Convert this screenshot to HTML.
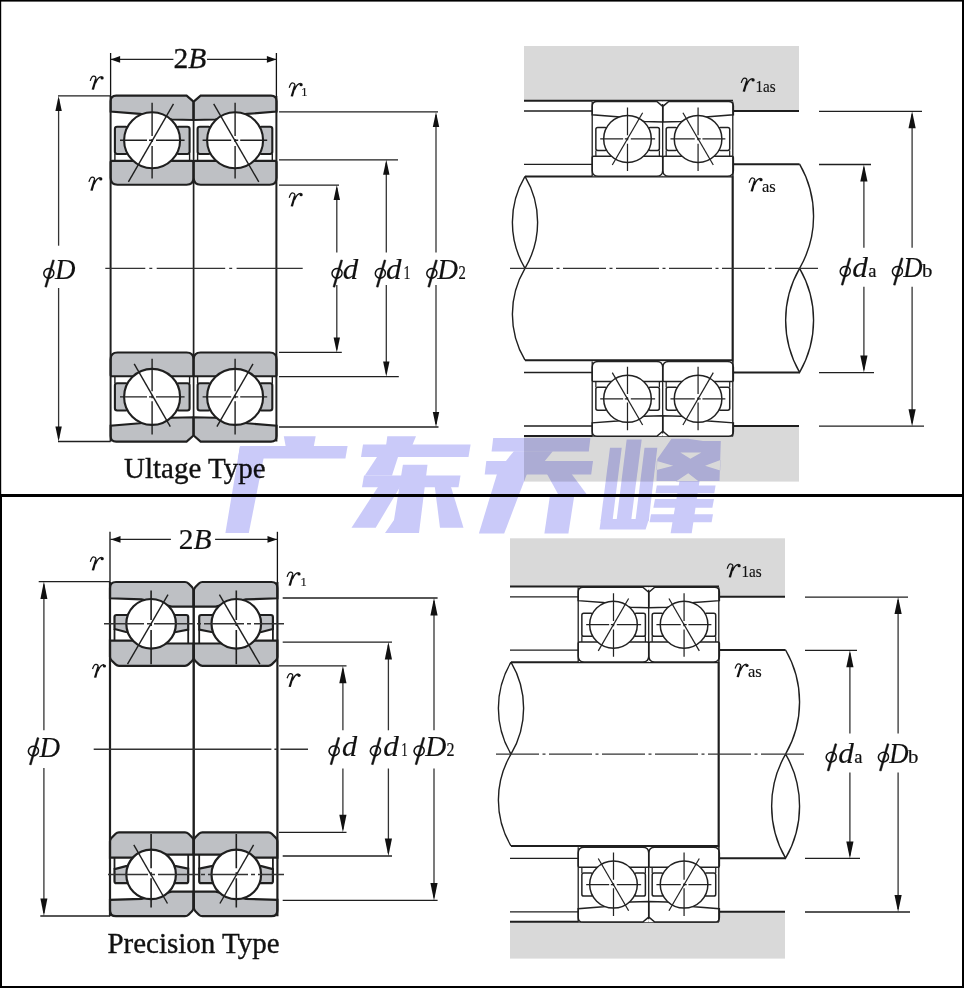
<!DOCTYPE html><html><head><meta charset="utf-8"><style>html,body{margin:0;padding:0;background:#fff;width:964px;height:988px;overflow:hidden}svg{display:block}text{font-family:"Liberation Serif",serif;fill:#111}</style></head><body>
<svg width="964" height="988" viewBox="0 0 964 988">
<defs>
<g id="U">
<rect x="110.6" y="95.6" width="82.9" height="89.1" fill="#fff" style="fill:var(--bg)"/>
<path d="M110.6,101.2 Q110.6,95.6 116.2,95.6 L186.6,95.6 L193.5,101.6 L193.5,120 L172,119.5 L140,113.9 L110.6,111.6 Z" style="fill:var(--rf);stroke:var(--k);stroke-width:var(--sw)"/>
<path d="M110.6,162.5 Q110.6,160.9 112.2,160.9 L191.9,160.9 Q193.5,160.9 193.5,162.5 L193.5,177.8 Q193.5,184.7 186.6,184.7 L117.5,184.7 Q110.6,184.7 110.6,177.8 Z" style="fill:var(--rf);stroke:var(--k);stroke-width:var(--sw)"/>
<rect x="114.9" y="126.7" width="13" height="27.3" rx="2.2" style="fill:var(--cf);stroke:var(--k);stroke-width:var(--sw)"/>
<rect x="176.6" y="126.7" width="13" height="27.3" rx="2.2" style="fill:var(--cf);stroke:var(--k);stroke-width:var(--sw)"/>
<path d="M114.9,154 L114.9,160.9 M189.6,154 L189.6,160.9" style="stroke:var(--k);stroke-width:var(--sw2)"/>
<circle cx="152.1" cy="140.3" r="28" style="fill:#fff;stroke:var(--k);stroke-width:var(--sw)"/>
<path d="M120,140.3 L147,140.3 M149,140.3 L153,140.3 M156,140.3 L184.6,140.3" style="stroke:var(--k);stroke-width:var(--sw2)"/>
<path d="M152.1,102.8 L152.1,136 M152.1,139 L152.1,142 M152.1,146 L152.1,178.5" style="stroke:var(--k);stroke-width:var(--sw2)"/>
<path d="M128.4,181.9 L173.5,103.9" style="stroke:var(--k);stroke-width:var(--sw2);opacity:var(--o1)"/>
<path d="M134.2,171.4 L169.9,109.1" style="stroke:var(--k);stroke-width:var(--sw2);opacity:var(--o2)"/>
<path d="M134.2,173.3 L170.3,110.5" style="stroke:var(--k);stroke-width:var(--sw2);opacity:var(--o3)"/>
</g>
<g id="UP"><use href="#U"/><use href="#U" transform="translate(387.2,0) scale(-1,1)"/></g>
<g id="P">
<rect x="110" y="582" width="83.6" height="83.8" fill="#fff"/>
<path d="M110,588 Q110,582 116,582 L185,582 Q187,582 188.5,583.5 L192,587 Q193.6,588.6 193.6,591 L193.6,606.6 L171.6,606.6 L141.5,599.4 L110,598.3 Z" fill="#bec0c4" stroke="#1f1f1f" stroke-width="2.2"/>
<path d="M110,640.6 L135,640.6 L165,643.5 L193.6,643.5 L193.6,657.5 Q193.6,659.5 192,661 L188.5,664.4 Q187,665.8 185,665.8 L119,665.8 Q117,665.8 115.6,664.4 L111.4,660.2 Q110,658.8 110,657 Z" fill="#bec0c4" stroke="#1f1f1f" stroke-width="2.2"/>
<path d="M114.5,617 Q114.5,615 116.5,615 L131,615 L131,632.5 L126,632 L114.5,629 Z" fill="#bec0c4" stroke="#1f1f1f" stroke-width="2.2"/>
<path d="M188.2,617 Q188.2,615 186.2,615 L171,615 L171,632.5 L176,632 L188.2,629.5 Z" fill="#bec0c4" stroke="#1f1f1f" stroke-width="2.2"/>
<path d="M114.5,629 L114.5,640.6 M188.2,629.5 L188.2,643.5" stroke="#1f1f1f" stroke-width="1.8"/>
<circle cx="151.1" cy="623.8" r="24.8" fill="#fff" stroke="#1f1f1f" stroke-width="2.2"/>
<path d="M151.1,590.6 L151.1,620 M151.1,623 L151.1,626 M151.1,630 L151.1,664.2" stroke="#1f1f1f" stroke-width="1.6"/>
<path d="M127.5,664.2 L168,594.7" stroke="#1f1f1f" stroke-width="1.4" style="opacity:var(--o1)"/>
<path d="M133.8,653.4 L167.5,594.7" stroke="#1f1f1f" stroke-width="1.4" style="opacity:var(--o3)"/>
</g>
<g id="PP"><use href="#P"/><use href="#P" transform="translate(387.4,0) scale(-1,1)"/></g>
</defs>
<rect x="0" y="0" width="964" height="988" fill="#fff"/>
<g style="--bg:#fff;--rf:#bec0c4;--cf:#bec0c4;--k:#1f1f1f;--sw:2.1;--sw2:1.4;--o1:1;--o2:0;--o3:0">
<use href="#UP"/>
<use href="#UP" transform="translate(0,537.2) scale(1,-1)" style="--o1:0;--o3:1"/>
</g>
<line x1="110.6" y1="53" x2="110.6" y2="96" stroke="#111" stroke-width="1.3" />
<line x1="110.6" y1="96" x2="110.6" y2="441.6" stroke="#1f1f1f" stroke-width="2" />
<line x1="276.4" y1="53" x2="276.4" y2="96" stroke="#111" stroke-width="1.3" />
<line x1="276.4" y1="96" x2="276.4" y2="441.6" stroke="#1f1f1f" stroke-width="2" />
<line x1="193.6" y1="101.6" x2="193.6" y2="435.6" stroke="#1f1f1f" stroke-width="1.7" />
<line x1="105.3" y1="268.4" x2="302.7" y2="268.4" stroke="#333" stroke-width="1.4" stroke-dasharray="68.5,4,3,4.4" stroke-dashoffset="28.5"/>
<line x1="110.6" y1="59.4" x2="173.4" y2="59.4" stroke="#222" stroke-width="1.3" />
<line x1="207" y1="59.4" x2="276.4" y2="59.4" stroke="#222" stroke-width="1.3" />
<path d="M110.6,59.4 L120.1,56.0 L120.1,62.8 Z" fill="#111"/>
<path d="M276.4,59.4 L266.9,56.0 L266.9,62.8 Z" fill="#111"/>
<text x="190" y="67.7" font-size="29.5" font-style="normal" text-anchor="middle" stroke="#111" stroke-width="0.3">2<tspan font-style='italic'>B</tspan></text>
<line x1="58" y1="95.9" x2="110.6" y2="95.9" stroke="#1f1f1f" stroke-width="1.3" />
<line x1="58" y1="441.5" x2="110.6" y2="441.5" stroke="#1f1f1f" stroke-width="1.3" />
<line x1="58.6" y1="98.9" x2="58.6" y2="245.7" stroke="#333" stroke-width="1.3" />
<line x1="58.6" y1="288" x2="58.6" y2="438.5" stroke="#333" stroke-width="1.3" />
<path d="M58.6,95.9 L55.4,110.9 L61.800000000000004,110.9 Z" fill="#111"/>
<path d="M58.6,441.5 L55.4,426.5 L61.800000000000004,426.5 Z" fill="#111"/>
<ellipse cx="48.85" cy="273.30" rx="5.10" ry="4.80" transform="rotate(-20 48.85 273.30)" fill="none" stroke="#111" stroke-width="1.50"/>
<path d="M52.60,259.90 L54.40,260.30 L46.60,287.20 L44.80,286.80 Z" fill="#111" stroke="#111" stroke-width="0.5"/>
<text x="55" y="278.8" font-size="28.5" font-style="italic" stroke="#111" stroke-width="0.12" textLength="20.5" lengthAdjust="spacingAndGlyphs">D</text>
<line x1="279" y1="111.9" x2="438" y2="111.9" stroke="#1f1f1f" stroke-width="1.3" />
<line x1="279" y1="427" x2="438.5" y2="427" stroke="#1f1f1f" stroke-width="1.3" />
<line x1="279" y1="159.8" x2="398" y2="159.8" stroke="#1f1f1f" stroke-width="1.3" />
<line x1="279" y1="376.6" x2="398.8" y2="376.6" stroke="#1f1f1f" stroke-width="1.3" />
<line x1="279" y1="185.1" x2="339" y2="185.1" stroke="#1f1f1f" stroke-width="1.3" />
<line x1="279" y1="352.4" x2="341.8" y2="352.4" stroke="#1f1f1f" stroke-width="1.3" />
<line x1="436" y1="114.9" x2="436" y2="252.6" stroke="#333" stroke-width="1.3" />
<line x1="436" y1="285" x2="436" y2="424" stroke="#333" stroke-width="1.3" />
<path d="M436,111.9 L432.8,126.9 L439.2,126.9 Z" fill="#111"/>
<path d="M436,427 L432.8,412 L439.2,412 Z" fill="#111"/>
<line x1="386.3" y1="162.8" x2="386.3" y2="252.6" stroke="#333" stroke-width="1.3" />
<line x1="386.3" y1="285" x2="386.3" y2="373.6" stroke="#333" stroke-width="1.3" />
<path d="M386.3,159.8 L383.1,174.8 L389.5,174.8 Z" fill="#111"/>
<path d="M386.3,376.6 L383.1,361.6 L389.5,361.6 Z" fill="#111"/>
<line x1="336.8" y1="188.1" x2="336.8" y2="252.6" stroke="#333" stroke-width="1.3" />
<line x1="336.8" y1="285" x2="336.8" y2="349.4" stroke="#333" stroke-width="1.3" />
<path d="M336.8,185.1 L333.6,200.1 L340.0,200.1 Z" fill="#111"/>
<path d="M336.8,352.4 L333.6,337.4 L340.0,337.4 Z" fill="#111"/>
<ellipse cx="337.05" cy="273.30" rx="5.10" ry="4.80" transform="rotate(-20 337.05 273.30)" fill="none" stroke="#111" stroke-width="1.50"/>
<path d="M340.80,259.90 L342.60,260.30 L334.80,287.20 L333.00,286.80 Z" fill="#111" stroke="#111" stroke-width="0.5"/>
<text x="342.8" y="278.8" font-size="28.5" font-style="italic" stroke="#111" stroke-width="0.12" textLength="15.5" lengthAdjust="spacingAndGlyphs">d</text>
<ellipse cx="380.35" cy="273.30" rx="5.10" ry="4.80" transform="rotate(-20 380.35 273.30)" fill="none" stroke="#111" stroke-width="1.50"/>
<path d="M384.10,259.90 L385.90,260.30 L378.10,287.20 L376.30,286.80 Z" fill="#111" stroke="#111" stroke-width="0.5"/>
<text x="386.1" y="278.8" font-size="28.5" font-style="italic" stroke="#111" stroke-width="0.12" textLength="15.5" lengthAdjust="spacingAndGlyphs">d</text>
<text x="403.5" y="278.8" font-size="19.5" stroke="#111" stroke-width="0.2" textLength="7" lengthAdjust="spacingAndGlyphs">1</text>
<ellipse cx="431.85" cy="273.30" rx="5.10" ry="4.80" transform="rotate(-20 431.85 273.30)" fill="none" stroke="#111" stroke-width="1.50"/>
<path d="M435.60,259.90 L437.40,260.30 L429.60,287.20 L427.80,286.80 Z" fill="#111" stroke="#111" stroke-width="0.5"/>
<text x="437.3" y="278.8" font-size="28.5" font-style="italic" stroke="#111" stroke-width="0.12" textLength="20.8" lengthAdjust="spacingAndGlyphs">D</text>
<text x="458.5" y="278.8" font-size="19.5" stroke="#111" stroke-width="0.2" textLength="7.3" lengthAdjust="spacingAndGlyphs">2</text>
<path d="M90.20,80.90 C91.10,78.00 92.50,76.10 93.80,76.20 C95.20,76.30 96.10,77.30 95.80,78.90" fill="none" stroke="#111" stroke-width="1.25"/>
<path d="M95.00,78.50 L96.80,79.00 L94.00,89.70 L91.60,89.40 Z" fill="#111"/>
<path d="M95.40,83.20 C97.00,79.40 99.50,76.50 101.70,76.60" fill="none" stroke="#111" stroke-width="1.35"/>
<circle cx="102.10" cy="77.90" r="1.60" fill="#111"/>
<path d="M88.90,181.90 C89.80,179.00 91.20,177.10 92.50,177.20 C93.90,177.30 94.80,178.30 94.50,179.90" fill="none" stroke="#111" stroke-width="1.25"/>
<path d="M93.70,179.50 L95.50,180.00 L92.70,190.70 L90.30,190.40 Z" fill="#111"/>
<path d="M94.10,184.20 C95.70,180.40 98.20,177.50 100.40,177.60" fill="none" stroke="#111" stroke-width="1.35"/>
<circle cx="100.80" cy="178.90" r="1.60" fill="#111"/>
<path d="M289.20,87.70 C290.10,84.80 291.50,82.90 292.80,83.00 C294.20,83.10 295.10,84.10 294.80,85.70" fill="none" stroke="#111" stroke-width="1.25"/>
<path d="M294.00,85.30 L295.80,85.80 L293.00,96.50 L290.60,96.20 Z" fill="#111"/>
<path d="M294.40,90.00 C296.00,86.20 298.50,83.30 300.70,83.40" fill="none" stroke="#111" stroke-width="1.35"/>
<circle cx="301.10" cy="84.70" r="1.60" fill="#111"/>
<text x="301.3" y="96.3" font-size="12.5" stroke="#111" stroke-width="0.15">1</text>
<path d="M289.20,197.70 C290.10,194.80 291.50,192.90 292.80,193.00 C294.20,193.10 295.10,194.10 294.80,195.70" fill="none" stroke="#111" stroke-width="1.25"/>
<path d="M294.00,195.30 L295.80,195.80 L293.00,206.50 L290.60,206.20 Z" fill="#111"/>
<path d="M294.40,200.00 C296.00,196.20 298.50,193.30 300.70,193.40" fill="none" stroke="#111" stroke-width="1.35"/>
<circle cx="301.10" cy="194.70" r="1.60" fill="#111"/>
<text x="194.8" y="478" font-size="29" font-style="normal" text-anchor="middle" stroke="#111" stroke-width="0.35">Ultage Type</text>
<g transform="translate(0,0)">
<rect x="524" y="46" width="275" height="55" fill="#d9d9d9"/>
<rect x="732.6" y="100" width="66.4" height="11" fill="#d9d9d9"/>
<rect x="524" y="436" width="275" height="45.60000000000002" fill="#d9d9d9"/>
<rect x="732.6" y="426" width="66.4" height="11" fill="#d9d9d9"/>
<path d="M524,100.8 L733,100.8 M732.6,111 L799,111 M524,436 L733,436 M732.6,426 L799,426" stroke="#1f1f1f" stroke-width="2" fill="none"/>
<path d="M524,111 L592,111 M524,164.4 L592,164.4 M524,372.5 L592,372.5 M524,426 L592,426" stroke="#1f1f1f" stroke-width="1.3" fill="none"/>
<path d="M525,176.4 L732.6,176.4 M525,360.2 L732.6,360.2 M732.6,164.2 L732.6,372.4 M732.6,164.2 L799.6,164.2 M732.6,372.4 L799.6,372.4" stroke="#1f1f1f" stroke-width="2" fill="none"/>
<path d="M525,176.4 A90,90 0 0 0 525,268.3 A90,90 0 0 0 525,176.4 M525,268.3 A90,90 0 0 0 525,360.2" stroke="#1f1f1f" stroke-width="1.4" fill="none"/>
<path d="M799.6,164.2 A104,104 0 0 1 799.6,268.3 M799.6,268.3 A104,104 0 0 1 799.6,372.4 A104,104 0 0 1 799.6,268.3" stroke="#1f1f1f" stroke-width="1.4" fill="none"/>
<g style="--bg:#fff;--rf:#fff;--cf:#fff;--k:#222;--sw:1.75;--sw2:1.45;--o1:0;--o2:1;--o3:0">
<g transform="translate(592.2,101.4) scale(0.8504,0.8395) translate(-110.6,-95.6)"><use href="#UP"/></g>
<g transform="translate(0,537.7) scale(1,-1) translate(592.2,101.4) scale(0.8504,0.8395) translate(-110.6,-95.6)"><use href="#UP"/></g>
</g>
<path d="M592.2,101.4 L592.2,176.2 M662.7,104 L662.7,173.5 M732.8,101.4 L732.8,436.3 M592.2,361.5 L592.2,436.3 M662.7,364 L662.7,433.5" stroke="#1f1f1f" stroke-width="1.3" fill="none"/>
<line x1="510" y1="268.3" x2="819.6" y2="268.3" stroke="#333" stroke-width="1.3" stroke-dasharray="43,3.5,3,3.5" stroke-dashoffset="0"/>
<line x1="819" y1="111.3" x2="922" y2="111.3" stroke="#1f1f1f" stroke-width="1.3" />
<line x1="819" y1="426.2" x2="924" y2="426.2" stroke="#1f1f1f" stroke-width="1.3" />
<line x1="819" y1="164.5" x2="871" y2="164.5" stroke="#1f1f1f" stroke-width="1.3" />
<line x1="819" y1="372.6" x2="874" y2="372.6" stroke="#1f1f1f" stroke-width="1.3" />
<line x1="912.1" y1="114.3" x2="912.1" y2="247.8" stroke="#333" stroke-width="1.3" />
<line x1="912.1" y1="286.8" x2="912.1" y2="423.2" stroke="#333" stroke-width="1.3" />
<path d="M912.1,111.3 L908.5,128.3 L915.7,128.3 Z" fill="#111"/>
<path d="M912.1,426.2 L908.5,409.2 L915.7,409.2 Z" fill="#111"/>
<line x1="863.9" y1="167.5" x2="863.9" y2="247.8" stroke="#333" stroke-width="1.3" />
<line x1="863.9" y1="286.8" x2="863.9" y2="369.6" stroke="#333" stroke-width="1.3" />
<path d="M863.9,164.5 L860.3,181.5 L867.5,181.5 Z" fill="#111"/>
<path d="M863.9,372.6 L860.3,355.6 L867.5,355.6 Z" fill="#111"/>
<ellipse cx="845.25" cy="271.30" rx="5.10" ry="4.80" transform="rotate(-20 845.25 271.30)" fill="none" stroke="#111" stroke-width="1.50"/>
<path d="M849.00,257.90 L850.80,258.30 L843.00,285.20 L841.20,284.80 Z" fill="#111" stroke="#111" stroke-width="0.5"/>
<text x="852.1999999999999" y="276.8" font-size="28.5" font-style="italic" stroke="#111" stroke-width="0.12" textLength="15.6" lengthAdjust="spacingAndGlyphs">d</text>
<text x="868.1999999999999" y="276.8" font-size="18" stroke="#111" stroke-width="0.2" textLength="8.2" lengthAdjust="spacingAndGlyphs">a</text>
<ellipse cx="897.45" cy="271.30" rx="5.10" ry="4.80" transform="rotate(-20 897.45 271.30)" fill="none" stroke="#111" stroke-width="1.50"/>
<path d="M901.20,257.90 L903.00,258.30 L895.20,285.20 L893.40,284.80 Z" fill="#111" stroke="#111" stroke-width="0.5"/>
<text x="903.2" y="276.8" font-size="28.5" font-style="italic" stroke="#111" stroke-width="0.12" textLength="19.3" lengthAdjust="spacingAndGlyphs">D</text>
<text x="922.1" y="276.8" font-size="18" stroke="#111" stroke-width="0.2" textLength="10.4" lengthAdjust="spacingAndGlyphs">b</text>
<path d="M741.20,82.90 C742.10,80.00 743.50,78.10 744.80,78.20 C746.20,78.30 747.10,79.30 746.80,80.90" fill="none" stroke="#111" stroke-width="1.25"/>
<path d="M746.00,80.50 L747.80,81.00 L745.00,91.70 L742.60,91.40 Z" fill="#111"/>
<path d="M746.40,85.20 C748.00,81.40 750.50,78.50 752.70,78.60" fill="none" stroke="#111" stroke-width="1.35"/>
<circle cx="753.10" cy="79.90" r="1.60" fill="#111"/>
<text x="755.5" y="91.7" font-size="17" stroke="#111" stroke-width="0.15" textLength="20.2" lengthAdjust="spacingAndGlyphs">1as</text>
<path d="M749.10,182.70 C750.00,179.80 751.40,177.90 752.70,178.00 C754.10,178.10 755.00,179.10 754.70,180.70" fill="none" stroke="#111" stroke-width="1.25"/>
<path d="M753.90,180.30 L755.70,180.80 L752.90,191.50 L750.50,191.20 Z" fill="#111"/>
<path d="M754.30,185.00 C755.90,181.20 758.40,178.30 760.60,178.40" fill="none" stroke="#111" stroke-width="1.35"/>
<circle cx="761.00" cy="179.70" r="1.60" fill="#111"/>
<text x="762" y="191.5" font-size="17" stroke="#111" stroke-width="0.15" textLength="13.8" lengthAdjust="spacingAndGlyphs">as</text>
</g>
<g transform="translate(-14,485.8)">
<rect x="524" y="52.49999999999994" width="275" height="48.50000000000006" fill="#d9d9d9"/>
<rect x="732.6" y="100" width="66.4" height="11" fill="#d9d9d9"/>
<rect x="524" y="436" width="275" height="36.80000000000001" fill="#d9d9d9"/>
<rect x="732.6" y="426" width="66.4" height="11" fill="#d9d9d9"/>
<path d="M524,100.8 L733,100.8 M732.6,111 L799,111 M524,436 L733,436 M732.6,426 L799,426" stroke="#1f1f1f" stroke-width="2" fill="none"/>
<path d="M524,111 L592,111 M524,164.4 L592,164.4 M524,372.5 L592,372.5 M524,426 L592,426" stroke="#1f1f1f" stroke-width="1.3" fill="none"/>
<path d="M525,176.4 L732.6,176.4 M525,360.2 L732.6,360.2 M732.6,164.2 L732.6,372.4 M732.6,164.2 L799.6,164.2 M732.6,372.4 L799.6,372.4" stroke="#1f1f1f" stroke-width="2" fill="none"/>
<path d="M525,176.4 A90,90 0 0 0 525,268.3 A90,90 0 0 0 525,176.4 M525,268.3 A90,90 0 0 0 525,360.2" stroke="#1f1f1f" stroke-width="1.4" fill="none"/>
<path d="M799.6,164.2 A104,104 0 0 1 799.6,268.3 M799.6,268.3 A104,104 0 0 1 799.6,372.4 A104,104 0 0 1 799.6,268.3" stroke="#1f1f1f" stroke-width="1.4" fill="none"/>
<g style="--bg:#fff;--rf:#fff;--cf:#fff;--k:#222;--sw:1.75;--sw2:1.45;--o1:0;--o2:1;--o3:0">
<g transform="translate(592.2,101.4) scale(0.8504,0.8395) translate(-110.6,-95.6)"><use href="#UP"/></g>
<g transform="translate(0,537.7) scale(1,-1) translate(592.2,101.4) scale(0.8504,0.8395) translate(-110.6,-95.6)"><use href="#UP"/></g>
</g>
<path d="M592.2,101.4 L592.2,176.2 M662.7,104 L662.7,173.5 M732.8,101.4 L732.8,436.3 M592.2,361.5 L592.2,436.3 M662.7,364 L662.7,433.5" stroke="#1f1f1f" stroke-width="1.3" fill="none"/>
<line x1="510" y1="268.3" x2="819.6" y2="268.3" stroke="#333" stroke-width="1.3" stroke-dasharray="43,3.5,3,3.5" stroke-dashoffset="0"/>
<line x1="819" y1="111.3" x2="922" y2="111.3" stroke="#1f1f1f" stroke-width="1.3" />
<line x1="819" y1="426.2" x2="924" y2="426.2" stroke="#1f1f1f" stroke-width="1.3" />
<line x1="819" y1="164.5" x2="871" y2="164.5" stroke="#1f1f1f" stroke-width="1.3" />
<line x1="819" y1="372.6" x2="874" y2="372.6" stroke="#1f1f1f" stroke-width="1.3" />
<line x1="912.1" y1="114.3" x2="912.1" y2="247.8" stroke="#333" stroke-width="1.3" />
<line x1="912.1" y1="286.8" x2="912.1" y2="423.2" stroke="#333" stroke-width="1.3" />
<path d="M912.1,111.3 L908.5,128.3 L915.7,128.3 Z" fill="#111"/>
<path d="M912.1,426.2 L908.5,409.2 L915.7,409.2 Z" fill="#111"/>
<line x1="863.9" y1="167.5" x2="863.9" y2="247.8" stroke="#333" stroke-width="1.3" />
<line x1="863.9" y1="286.8" x2="863.9" y2="369.6" stroke="#333" stroke-width="1.3" />
<path d="M863.9,164.5 L860.3,181.5 L867.5,181.5 Z" fill="#111"/>
<path d="M863.9,372.6 L860.3,355.6 L867.5,355.6 Z" fill="#111"/>
<ellipse cx="845.25" cy="271.30" rx="5.10" ry="4.80" transform="rotate(-20 845.25 271.30)" fill="none" stroke="#111" stroke-width="1.50"/>
<path d="M849.00,257.90 L850.80,258.30 L843.00,285.20 L841.20,284.80 Z" fill="#111" stroke="#111" stroke-width="0.5"/>
<text x="852.1999999999999" y="276.8" font-size="28.5" font-style="italic" stroke="#111" stroke-width="0.12" textLength="15.6" lengthAdjust="spacingAndGlyphs">d</text>
<text x="868.1999999999999" y="276.8" font-size="18" stroke="#111" stroke-width="0.2" textLength="8.2" lengthAdjust="spacingAndGlyphs">a</text>
<ellipse cx="897.45" cy="271.30" rx="5.10" ry="4.80" transform="rotate(-20 897.45 271.30)" fill="none" stroke="#111" stroke-width="1.50"/>
<path d="M901.20,257.90 L903.00,258.30 L895.20,285.20 L893.40,284.80 Z" fill="#111" stroke="#111" stroke-width="0.5"/>
<text x="903.2" y="276.8" font-size="28.5" font-style="italic" stroke="#111" stroke-width="0.12" textLength="19.3" lengthAdjust="spacingAndGlyphs">D</text>
<text x="922.1" y="276.8" font-size="18" stroke="#111" stroke-width="0.2" textLength="10.4" lengthAdjust="spacingAndGlyphs">b</text>
<path d="M741.20,82.90 C742.10,80.00 743.50,78.10 744.80,78.20 C746.20,78.30 747.10,79.30 746.80,80.90" fill="none" stroke="#111" stroke-width="1.25"/>
<path d="M746.00,80.50 L747.80,81.00 L745.00,91.70 L742.60,91.40 Z" fill="#111"/>
<path d="M746.40,85.20 C748.00,81.40 750.50,78.50 752.70,78.60" fill="none" stroke="#111" stroke-width="1.35"/>
<circle cx="753.10" cy="79.90" r="1.60" fill="#111"/>
<text x="755.5" y="91.7" font-size="17" stroke="#111" stroke-width="0.15" textLength="20.2" lengthAdjust="spacingAndGlyphs">1as</text>
<path d="M749.10,182.70 C750.00,179.80 751.40,177.90 752.70,178.00 C754.10,178.10 755.00,179.10 754.70,180.70" fill="none" stroke="#111" stroke-width="1.25"/>
<path d="M753.90,180.30 L755.70,180.80 L752.90,191.50 L750.50,191.20 Z" fill="#111"/>
<path d="M754.30,185.00 C755.90,181.20 758.40,178.30 760.60,178.40" fill="none" stroke="#111" stroke-width="1.35"/>
<circle cx="761.00" cy="179.70" r="1.60" fill="#111"/>
<text x="762" y="191.5" font-size="17" stroke="#111" stroke-width="0.15" textLength="13.8" lengthAdjust="spacingAndGlyphs">as</text>
</g>
<use href="#PP" style="--o1:1;--o3:0"/>
<use href="#PP" transform="translate(0,1498.2) scale(1,-1)" style="--o1:0;--o3:1"/>
<line x1="110" y1="531.8" x2="110" y2="582" stroke="#111" stroke-width="1.3" />
<line x1="110" y1="582" x2="110" y2="916.2" stroke="#1f1f1f" stroke-width="2.2" />
<line x1="277.4" y1="531.8" x2="277.4" y2="582" stroke="#111" stroke-width="1.3" />
<line x1="277.4" y1="582" x2="277.4" y2="916.2" stroke="#1f1f1f" stroke-width="2.2" />
<line x1="193.7" y1="589" x2="193.7" y2="909" stroke="#1f1f1f" stroke-width="2.4" />
<path d="M104,623.8 L284,623.8 M108,874.4 L284,874.4" stroke="#333" stroke-width="1.5" stroke-dasharray="40,3,4,3"/>
<line x1="93.7" y1="749.2" x2="308" y2="749.2" stroke="#333" stroke-width="1.4" stroke-dasharray="177.7,3,3,3,200" stroke-dashoffset="0"/>
<line x1="110.3" y1="539.4" x2="170.9" y2="539.4" stroke="#222" stroke-width="1.3" />
<line x1="215.1" y1="539.4" x2="277.7" y2="539.4" stroke="#222" stroke-width="1.3" />
<path d="M111,539.4 L120.5,536.0 L120.5,542.8 Z" fill="#111"/>
<path d="M277,539.4 L267.5,536.0 L267.5,542.8 Z" fill="#111"/>
<text x="195.1" y="548.9" font-size="29.5" font-style="normal" text-anchor="middle" stroke="#111" stroke-width="0.2">2<tspan font-style='italic'>B</tspan></text>
<line x1="38.7" y1="581.6" x2="110" y2="581.6" stroke="#1f1f1f" stroke-width="1.3" />
<line x1="40.3" y1="916" x2="110" y2="916" stroke="#1f1f1f" stroke-width="1.3" />
<line x1="43.9" y1="584.6" x2="43.9" y2="730.2" stroke="#333" stroke-width="1.3" />
<line x1="43.9" y1="767.9" x2="43.9" y2="913" stroke="#333" stroke-width="1.3" />
<path d="M43.9,581.6 L40.4,599.1 L47.4,599.1 Z" fill="#111"/>
<path d="M43.9,916 L40.4,898.5 L47.4,898.5 Z" fill="#111"/>
<ellipse cx="33.45" cy="751.00" rx="5.10" ry="4.80" transform="rotate(-20 33.45 751.00)" fill="none" stroke="#111" stroke-width="1.50"/>
<path d="M37.20,737.60 L39.00,738.00 L31.20,764.90 L29.40,764.50 Z" fill="#111" stroke="#111" stroke-width="0.5"/>
<text x="39.6" y="756.5" font-size="28.5" font-style="italic" stroke="#111" stroke-width="0.12" textLength="20.6" lengthAdjust="spacingAndGlyphs">D</text>
<line x1="282.7" y1="598" x2="437.6" y2="598" stroke="#1f1f1f" stroke-width="1.3" />
<line x1="282.7" y1="900.4" x2="437.6" y2="900.4" stroke="#1f1f1f" stroke-width="1.3" />
<line x1="282.7" y1="642.1" x2="392" y2="642.1" stroke="#1f1f1f" stroke-width="1.3" />
<line x1="282.7" y1="856" x2="392" y2="856" stroke="#1f1f1f" stroke-width="1.3" />
<line x1="279" y1="665.8" x2="346.5" y2="665.8" stroke="#1f1f1f" stroke-width="1.3" />
<line x1="279" y1="832.3" x2="346.5" y2="832.3" stroke="#1f1f1f" stroke-width="1.3" />
<line x1="434" y1="601" x2="434" y2="730.3" stroke="#333" stroke-width="1.3" />
<line x1="434" y1="768.5" x2="434" y2="897.4" stroke="#333" stroke-width="1.3" />
<path d="M434,598 L430.4,615.5 L437.6,615.5 Z" fill="#111"/>
<path d="M434,900.4 L430.4,882.9 L437.6,882.9 Z" fill="#111"/>
<line x1="388.4" y1="645.1" x2="388.4" y2="730.3" stroke="#333" stroke-width="1.3" />
<line x1="388.4" y1="768.5" x2="388.4" y2="853" stroke="#333" stroke-width="1.3" />
<path d="M388.4,642.1 L384.79999999999995,659.6 L392.0,659.6 Z" fill="#111"/>
<path d="M388.4,856 L384.79999999999995,838.5 L392.0,838.5 Z" fill="#111"/>
<line x1="342.9" y1="668.8" x2="342.9" y2="730.3" stroke="#333" stroke-width="1.3" />
<line x1="342.9" y1="768.5" x2="342.9" y2="829.3" stroke="#333" stroke-width="1.3" />
<path d="M342.9,665.8 L339.29999999999995,683.3 L346.5,683.3 Z" fill="#111"/>
<path d="M342.9,832.3 L339.29999999999995,814.8 L346.5,814.8 Z" fill="#111"/>
<ellipse cx="334.15" cy="750.80" rx="5.10" ry="4.80" transform="rotate(-20 334.15 750.80)" fill="none" stroke="#111" stroke-width="1.50"/>
<path d="M337.90,737.40 L339.70,737.80 L331.90,764.70 L330.10,764.30 Z" fill="#111" stroke="#111" stroke-width="0.5"/>
<text x="341.90000000000003" y="756.3" font-size="28.5" font-style="italic" stroke="#111" stroke-width="0.12" textLength="15.2" lengthAdjust="spacingAndGlyphs">d</text>
<ellipse cx="375.45" cy="750.80" rx="5.10" ry="4.80" transform="rotate(-20 375.45 750.80)" fill="none" stroke="#111" stroke-width="1.50"/>
<path d="M379.20,737.40 L381.00,737.80 L373.20,764.70 L371.40,764.30 Z" fill="#111" stroke="#111" stroke-width="0.5"/>
<text x="383.20000000000005" y="756.3" font-size="28.5" font-style="italic" stroke="#111" stroke-width="0.12" textLength="15.6" lengthAdjust="spacingAndGlyphs">d</text>
<text x="401.20000000000005" y="756.3" font-size="19.5" stroke="#111" stroke-width="0.2" textLength="6.5" lengthAdjust="spacingAndGlyphs">1</text>
<ellipse cx="419.15" cy="750.80" rx="5.10" ry="4.80" transform="rotate(-20 419.15 750.80)" fill="none" stroke="#111" stroke-width="1.50"/>
<path d="M422.90,737.40 L424.70,737.80 L416.90,764.70 L415.10,764.30 Z" fill="#111" stroke="#111" stroke-width="0.5"/>
<text x="425.3" y="756.3" font-size="28.5" font-style="italic" stroke="#111" stroke-width="0.12" textLength="21.1" lengthAdjust="spacingAndGlyphs">D</text>
<text x="446.40000000000003" y="756.3" font-size="19.5" stroke="#111" stroke-width="0.2" textLength="8" lengthAdjust="spacingAndGlyphs">2</text>
<path d="M90.30,561.70 C91.20,558.80 92.60,556.90 93.90,557.00 C95.30,557.10 96.20,558.10 95.90,559.70" fill="none" stroke="#111" stroke-width="1.25"/>
<path d="M95.10,559.30 L96.90,559.80 L94.10,570.50 L91.70,570.20 Z" fill="#111"/>
<path d="M95.50,564.00 C97.10,560.20 99.60,557.30 101.80,557.40" fill="none" stroke="#111" stroke-width="1.35"/>
<circle cx="102.20" cy="558.70" r="1.60" fill="#111"/>
<path d="M92.50,669.00 C93.40,666.10 94.80,664.20 96.10,664.30 C97.50,664.40 98.40,665.40 98.10,667.00" fill="none" stroke="#111" stroke-width="1.25"/>
<path d="M97.30,666.60 L99.10,667.10 L96.30,677.80 L93.90,677.50 Z" fill="#111"/>
<path d="M97.70,671.30 C99.30,667.50 101.80,664.60 104.00,664.70" fill="none" stroke="#111" stroke-width="1.35"/>
<circle cx="104.40" cy="666.00" r="1.60" fill="#111"/>
<path d="M287.10,576.90 C288.00,574.00 289.40,572.10 290.70,572.20 C292.10,572.30 293.00,573.30 292.70,574.90" fill="none" stroke="#111" stroke-width="1.25"/>
<path d="M291.90,574.50 L293.70,575.00 L290.90,585.70 L288.50,585.40 Z" fill="#111"/>
<path d="M292.30,579.20 C293.90,575.40 296.40,572.50 298.60,572.60" fill="none" stroke="#111" stroke-width="1.35"/>
<circle cx="299.00" cy="573.90" r="1.60" fill="#111"/>
<text x="300.5" y="585.5" font-size="12.5" stroke="#111" stroke-width="0.15">1</text>
<path d="M287.10,678.30 C288.00,675.40 289.40,673.50 290.70,673.60 C292.10,673.70 293.00,674.70 292.70,676.30" fill="none" stroke="#111" stroke-width="1.25"/>
<path d="M291.90,675.90 L293.70,676.40 L290.90,687.10 L288.50,686.80 Z" fill="#111"/>
<path d="M292.30,680.60 C293.90,676.80 296.40,673.90 298.60,674.00" fill="none" stroke="#111" stroke-width="1.35"/>
<circle cx="299.00" cy="675.30" r="1.60" fill="#111"/>
<text x="193.5" y="953" font-size="29" font-style="normal" text-anchor="middle" stroke="#111" stroke-width="0.35">Precision Type</text>
<rect x="0" y="0" width="964" height="1.6" fill="#000"/>
<rect x="0" y="0" width="1.2" height="494" fill="#000"/>
<rect x="0" y="494" width="2" height="494" fill="#000"/>
<rect x="962" y="0" width="2" height="988" fill="#000"/>
<rect x="0" y="986" width="964" height="2" fill="#000"/>
<rect x="0" y="494" width="964" height="3" fill="#000"/>
<g style="mix-blend-mode:multiply" fill="#cacaf9">
<path d="M283.8,436.2 L315.7,436.2 L313.5,448 L286,448 Z"/>
<path d="M240,446 L347.6,446 L345.4,458.4 L238,458.4 Z"/>
<path d="M240,446 L266,446 L248.8,533 L225.4,533 Z"/>
<path d="M387.3,436.2 L416,436.2 L412,446 L386,446 Z"/>
<path d="M363,444.4 L470.6,444.4 L468.5,456.9 L361,456.9 Z"/>
<path d="M377,456.9 L398,456.9 L392,475.6 L364.8,475.6 Z"/>
<path d="M364,475.6 L460.5,475.6 L458.5,487.2 L362,487.2 Z"/>
<path d="M402.9,464.7 L427.5,464.7 L419,533 L385,533 L394,520 Z"/>
<path d="M378,487 L400,487 L375.7,527.7 L351.5,527.7 Z"/>
<path d="M434.8,487 L451,487 L463.5,527.7 L440,527.7 Z"/>
<path d="M493.2,438 L590.4,438 L588.8,451.6 L491.6,451.6 Z"/>
<path d="M513.9,451.2 L552.8,451.2 L544.4,461.4 L505.5,461.4 Z"/>
<path d="M486.3,461 L593,461 L591.2,474.5 L484.7,474.5 Z"/>
<path d="M497,474 L526.9,474 L504.2,533.4 L478.9,533.4 Z"/>
<path d="M547,474 L571.6,474 L586.5,494 L558,494 Z"/>
<path d="M550.2,494 L574.5,494 L568.4,533.4 L544.4,533.4 Z"/>
<path d="M610,447.8 L621.7,447.8 L612.5,521 L600.6,521 Z"/>
<path d="M626.7,439.5 L641.7,439.5 L631.1,521 L616.5,521 Z"/>
<path d="M644.5,447.8 L657.3,447.8 L648.7,521 L635.4,521 Z"/>
<path d="M601,519 L649,519 L645.6,529.6 L599.5,529.6 Z"/>
<path d="M656.8,485.5 L715.6,485.5 L714.3,493.3 L655.5,493.3 Z"/>
<path d="M655,499 L714,499 L712.4,507.8 L653.4,507.8 Z"/>
<path d="M651,514.3 L713,514.3 L711.6,522.3 L649.6,522.3 Z"/>
<path d="M679.5,481 L699.5,481 L691.7,533.2 L670.6,533.2 Z"/>
<path fill-rule="evenodd" d="M671.5,438.8 L688,438.8 L703,441 L720.8,441 L719.5,481.1 L656.5,481.1 L657.3,459 Z M680.3,452.5 L701.4,452.5 L690.4,458.7 Z M656.8,460.9 L673.2,465.7 L656.6,470 Z M720.5,460 L705,465.7 L720.2,470.6 Z M675.9,481.6 L698.8,481.6 L688.2,473.2 Z"/>
</g>
</svg></body></html>
